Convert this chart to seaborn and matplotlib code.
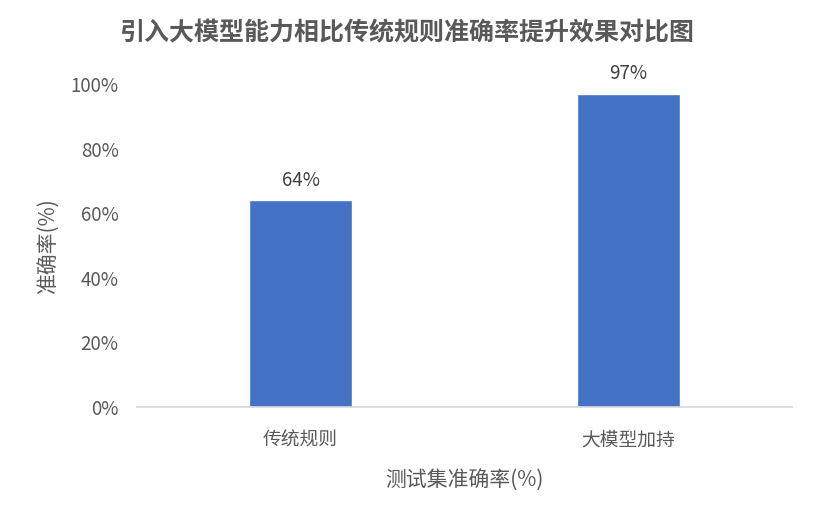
import matplotlib
matplotlib.use("Agg")
import matplotlib.pyplot as plt
import seaborn as sns
import pandas as pd
from matplotlib.ticker import PercentFormatter

categories = ["传统规则", "大模型加持"]
accuracy = [0.64, 0.97]
title = "引入大模型能力相比传统规则准确率提升效果对比图"
xlabel = "测试集准确率(%)"
ylabel = "准确率(%)"

sns.set_theme(style="white")
plt.rcParams['font.family'] = ['Noto Sans CJK SC', 'DejaVu Sans']

df = pd.DataFrame({"cat": categories, "acc": accuracy})

fig = plt.figure(figsize=(8.14, 5.22), dpi=100)
ax = fig.add_axes([0.168, 0.2203, 0.805, 0.6187])
sns.barplot(data=df, x="cat", y="acc", color="#4472C4", width=0.315, ax=ax, saturation=1)

ax.set_ylim(0, 1.0)
ax.set_yticks([0, 0.2, 0.4, 0.6, 0.8, 1.0])
ax.yaxis.set_major_formatter(PercentFormatter(1.0, decimals=0))
ax.tick_params(axis='y', labelsize=13.5, colors="#595959", length=0, pad=13)
ax.tick_params(axis='x', labelsize=13.5, colors="#595959", length=0, pad=16)

for s in ["top", "right", "left"]:
    ax.spines[s].set_visible(False)
ax.spines["bottom"].set_color("#D9D9D9")
ax.spines["bottom"].set_linewidth(1.2)

for p, v in zip(ax.patches, accuracy):
    ax.annotate(f"{v:.0%}", (p.get_x() + p.get_width() / 2, p.get_height()),
                xytext=(0, 7), textcoords="offset points", ha="center", va="bottom",
                fontsize=13.5, color="#404040")

ax.set_xlabel(xlabel, fontsize=15, color="#595959", labelpad=14)
ax.set_ylabel(ylabel, fontsize=15, color="#595959", labelpad=8)
fig.suptitle(title, x=0.5, y=0.96, fontsize=18, fontweight="bold", color="#595959")

fig.savefig("out.png", dpi=100, facecolor="white")
